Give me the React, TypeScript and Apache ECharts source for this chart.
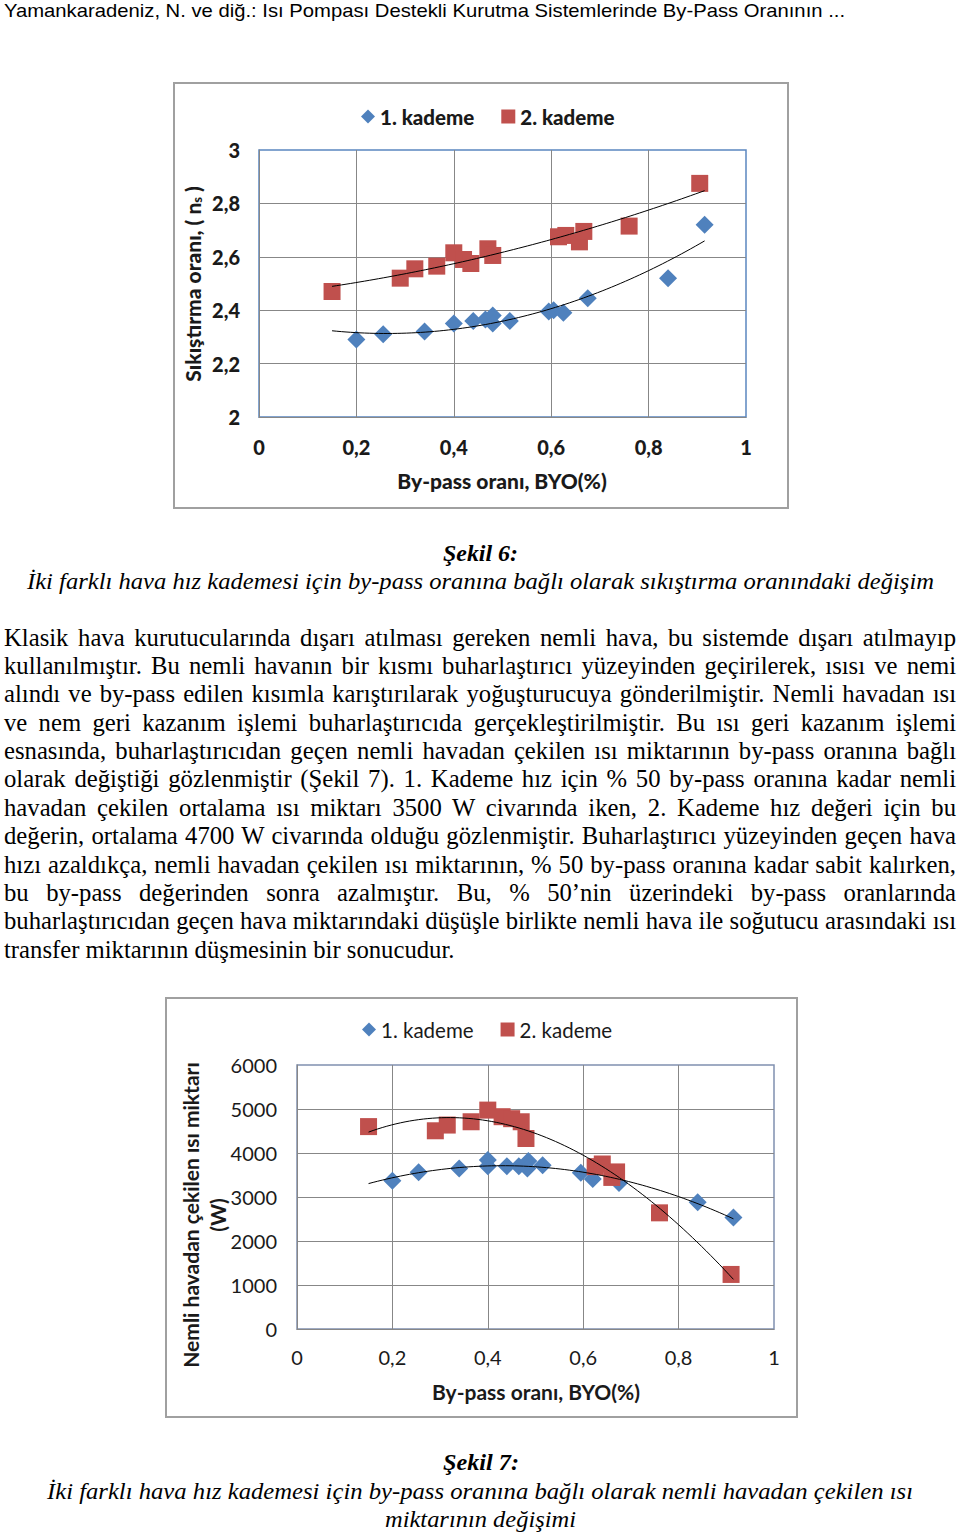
import React, { useEffect, useLayoutEffect, useRef } from "react";
import * as echarts from "echarts";

// ---------- DATA ----------
const X_TICKS = [0, 0.2, 0.4, 0.6, 0.8, 1];

// Şekil 6: compression ratio vs by-pass ratio
const f6K1X = [0.2, 0.255, 0.34, 0.4, 0.44, 0.465, 0.48, 0.48, 0.515, 0.595, 0.605, 0.625, 0.675, 0.84, 0.915];
const f6K1Y = [2.29, 2.31, 2.32, 2.35, 2.36, 2.365, 2.38, 2.35, 2.36, 2.395, 2.4, 2.39, 2.445, 2.52, 2.72];
const f6K2X = [0.15, 0.29, 0.32, 0.365, 0.4, 0.42, 0.435, 0.47, 0.48, 0.615, 0.63, 0.658, 0.667, 0.76, 0.905];
const f6K2Y = [2.47, 2.52, 2.555, 2.565, 2.615, 2.59, 2.575, 2.63, 2.605, 2.675, 2.68, 2.656, 2.695, 2.715, 2.875];

// Şekil 7: heat extracted from humid air (W) vs by-pass ratio
const f7K1X = [0.2, 0.255, 0.34, 0.4, 0.4, 0.44, 0.465, 0.485, 0.483, 0.515, 0.595, 0.62, 0.675, 0.84, 0.915];
const f7K1Y = [3370, 3565, 3650, 3840, 3700, 3700, 3700, 3820, 3650, 3720, 3550, 3410, 3320, 2880, 2535];
const f7K2X = [0.15, 0.29, 0.315, 0.365, 0.4, 0.43, 0.45, 0.47, 0.48, 0.625, 0.64, 0.66, 0.67, 0.76, 0.91];
const f7K2Y = [4600, 4505, 4635, 4710, 4975, 4825, 4780, 4710, 4330, 3690, 3750, 3445, 3570, 2640, 1240];

const SERIES1 = "1. kademe";
const SERIES2 = "2. kademe";

const HEADER = "Yamankaradeniz, N. ve diğ.: Isı Pompası Destekli Kurutma Sistemlerinde By-Pass Oranının ...";
const FIG6_TITLE = "Şekil 6:";
const FIG6_CAPTION = "İki farklı hava hız kademesi için by-pass oranına bağlı olarak sıkıştırma oranındaki değişim";
const FIG7_TITLE = "Şekil 7:";
const FIG7_CAPTION1 = "İki farklı hava hız kademesi için by-pass oranına bağlı olarak nemli havadan çekilen ısı";
const FIG7_CAPTION2 = "miktarının değişimi";
const PARAGRAPH = [
  "Klasik hava kurutucularında dışarı atılması gereken nemli hava, bu sistemde dışarı atılmayıp",
  "kullanılmıştır. Bu nemli havanın bir kısmı buharlaştırıcı yüzeyinden geçirilerek, ısısı ve nemi",
  "alındı ve by-pass edilen kısımla karıştırılarak yoğuşturucuya gönderilmiştir. Nemli havadan ısı",
  "ve nem geri kazanım işlemi buharlaştırıcıda gerçekleştirilmiştir. Bu ısı geri kazanım işlemi",
  "esnasında, buharlaştırıcıdan geçen nemli havadan çekilen ısı miktarının by-pass oranına bağlı",
  "olarak değiştiği gözlenmiştir (Şekil 7). 1. Kademe hız için % 50 by-pass oranına kadar nemli",
  "havadan çekilen ortalama ısı miktarı 3500 W civarında iken, 2. Kademe hız değeri için bu",
  "değerin, ortalama 4700 W civarında olduğu gözlenmiştir. Buharlaştırıcı yüzeyinden geçen hava",
  "hızı azaldıkça, nemli havadan çekilen ısı miktarının, % 50 by-pass oranına kadar sabit kalırken,",
  "bu by-pass değerinden sonra azalmıştır. Bu, % 50’nin üzerindeki by-pass oranlarında",
  "buharlaştırıcıdan geçen hava miktarındaki düşüşle birlikte nemli hava ile soğutucu arasındaki ısı",
  "transfer miktarının düşmesinin bir sonucudur.",
];

// ---------- helpers ----------
const zip = (xs: number[], ys: number[]) => xs.map((x, i) => [x, ys[i]]);

function polyfit(xs: number[], ys: number[], deg: number): number[] {
  const n = deg + 1;
  const A: number[][] = [];
  for (let i = 0; i < n; i++) {
    const row: number[] = [];
    for (let j = 0; j < n; j++) row.push(xs.reduce((s, x) => s + Math.pow(x, i + j), 0));
    row.push(xs.reduce((s, x, k) => s + ys[k] * Math.pow(x, i), 0));
    A.push(row);
  }
  for (let c = 0; c < n; c++) {
    let p = c;
    for (let r = c + 1; r < n; r++) if (Math.abs(A[r][c]) > Math.abs(A[p][c])) p = r;
    [A[c], A[p]] = [A[p], A[c]];
    for (let r = 0; r < n; r++) {
      if (r === c) continue;
      const f = A[r][c] / A[c][c];
      for (let k = c; k <= n; k++) A[r][k] -= f * A[c][k];
    }
  }
  return A.map((row, i) => row[n] / row[i]);
}

function trend(xs: number[], ys: number[], x0: number, x1: number, deg = 2) {
  const c = polyfit(xs, ys, deg);
  const out: number[][] = [];
  const N = 80;
  for (let i = 0; i <= N; i++) {
    const x = x0 + ((x1 - x0) * i) / N;
    out.push([x, c.reduce((s, ci, k) => s + ci * Math.pow(x, k), 0)]);
  }
  return out;
}

const fmtDec = (v: number) => String(Math.round(v * 10) / 10).replace(".", ",");

// ---------- text line component ----------
type LineProps = {
  text: string;
  left: number;
  cy: number;
  width?: number;
  size: number;
  family: string;
  weight?: string;
  italic?: boolean;
  mode: "none" | "justify" | "fit";
};

function TextLine({ text, left, cy, width, size, family, weight, italic, mode }: LineProps) {
  const ref = useRef<HTMLSpanElement>(null);
  useLayoutEffect(() => {
    const apply = () => {
      const el = ref.current;
      if (!el) return;
      el.style.wordSpacing = "0px";
      el.style.transform = "none";
      const w = el.getBoundingClientRect().width;
      if (!width || !w) return;
      if (mode === "justify") {
        const n = (text.match(/ /g) || []).length;
        if (n) el.style.wordSpacing = (width - w) / n + "px";
      } else if (mode === "fit") {
        el.style.transform = `scaleX(${width / w})`;
      }
    };
    apply();
    (document as any).fonts?.ready?.then(apply);
  }, [text, width, mode]);
  return (
    <span
      ref={ref}
      style={{
        position: "absolute",
        left,
        top: cy - size / 2,
        whiteSpace: "pre",
        fontSize: size,
        lineHeight: size + "px",
        fontFamily: family,
        fontWeight: (weight as any) || "normal",
        fontStyle: italic ? "italic" : "normal",
        transformOrigin: "0 0",
        color: "#000",
      }}
    >
      {text}
    </span>
  );
}

// ---------- chart ----------
function buildOption() {
  const dark = "#1a1a1a";
  const gridGray = "#878787";
  const blue = "#4f81bd";
  const red = "#c0504d";
  const all6 = [...f6K1X, ...f6K2X];
  const all7 = [...f7K1X, ...f7K2X];
  const t6a = trend(f6K1X, f6K1Y, Math.min(...all6), Math.max(...all6), 2);
  const t6b = trend(f6K2X, f6K2Y, Math.min(...all6), Math.max(...all6), 2);
  const t7a = trend(f7K1X, f7K1Y, Math.min(...all7), Math.max(...all7), 2);
  const t7b = trend(f7K2X, f7K2Y, Math.min(...all7), Math.max(...all7), 3);

  const heavyFont = { fontFamily: "Lato", fontWeight: 900 as any, fontSize: 20, color: dark };
  const regFont = { fontFamily: "Lato", fontWeight: "normal" as const, fontSize: 20, color: dark };
  const titleText = (x: number, y: number, text: string, weight: number, rot = 0, extra: any = {}) => ({
    type: "text",
    x,
    y,
    rotation: rot,
    style: {
      text,
      font: `${weight} 21px Lato`,
      fontFamily: "Lato",
      fontWeight: weight,
      fontSize: 21,
      fill: dark,
      align: "center",
      verticalAlign: "middle",
      textAlign: "center",
      textVerticalAlign: "middle",
      ...extra,
    },
  });

  const xAxisBase = (gridIndex: number, label: any, margin: number) => ({
    type: "value",
    gridIndex,
    min: 0,
    max: 1,
    interval: 0.2,
    axisLine: { show: true, lineStyle: { color: gridGray, width: 1 } },
    axisTick: { show: false },
    axisLabel: { ...label, margin, formatter: (v: number) => fmtDec(v) },
    splitLine: { show: true, showMinLine: false, showMaxLine: false, lineStyle: { color: gridGray, width: 1 } },
  });

  return {
    animation: false,
    grid: [
      { left: 259, top: 150, width: 487, height: 267, show: true, borderColor: "#5b87c0", borderWidth: 1.5, backgroundColor: "transparent", containLabel: false, outerBoundsMode: "none" },
      { left: 297, top: 1065, width: 477, height: 264, show: true, borderColor: "#8090b0", borderWidth: 1.5, backgroundColor: "transparent", containLabel: false, outerBoundsMode: "none" },
    ],
    legend: [
      {
        data: [{ name: SERIES1, icon: "diamond" }, { name: SERIES2, icon: "rect" }],
        left: 356,
        top: 101,
        itemWidth: 14,
        itemHeight: 14,
        itemGap: 27,
        selectedMode: false,
        textStyle: { ...heavyFont, fontSize: 20.5 },
      },
      {
        data: [{ name: SERIES1, icon: "diamond" }, { name: SERIES2, icon: "rect" }],
        left: 357,
        top: 1014,
        itemWidth: 14,
        itemHeight: 14,
        itemGap: 27,
        selectedMode: false,
        textStyle: { ...regFont, fontSize: 20.5 },
      },
    ],
    xAxis: [xAxisBase(0, heavyFont, 20), xAxisBase(1, regFont, 18)],
    yAxis: [
      {
        type: "value",
        gridIndex: 0,
        min: 2,
        max: 3,
        interval: 0.2,
        axisLine: { show: true, lineStyle: { color: gridGray, width: 1 } },
        axisTick: { show: false },
        axisLabel: { ...heavyFont, margin: 19, formatter: (v: number) => fmtDec(v) },
        splitLine: { show: true, showMinLine: false, showMaxLine: false, lineStyle: { color: gridGray, width: 1 } },
      },
      {
        type: "value",
        gridIndex: 1,
        min: 0,
        max: 6000,
        interval: 1000,
        axisLine: { show: true, lineStyle: { color: gridGray, width: 1 } },
        axisTick: { show: false },
        axisLabel: { ...regFont, margin: 20, formatter: (v: number) => String(v) },
        splitLine: { show: true, showMinLine: false, showMaxLine: false, lineStyle: { color: gridGray, width: 1 } },
      },
    ],
    series: [
      { name: SERIES1, type: "scatter", xAxisIndex: 0, yAxisIndex: 0, symbol: "diamond", symbolSize: 18, itemStyle: { color: blue, opacity: 1 }, data: zip(f6K1X, f6K1Y), z: 2 },
      { name: SERIES2, type: "scatter", xAxisIndex: 0, yAxisIndex: 0, symbol: "rect", symbolSize: 17, itemStyle: { color: red, opacity: 1 }, data: zip(f6K2X, f6K2Y), z: 2 },
      { name: "trend6a", type: "line", xAxisIndex: 0, yAxisIndex: 0, showSymbol: false, symbol: "none", silent: true, lineStyle: { color: "#000", width: 1 }, data: t6a, z: 3 },
      { name: "trend6b", type: "line", xAxisIndex: 0, yAxisIndex: 0, showSymbol: false, symbol: "none", silent: true, lineStyle: { color: "#000", width: 1 }, data: t6b, z: 3 },
      { name: SERIES1, type: "scatter", xAxisIndex: 1, yAxisIndex: 1, symbol: "diamond", symbolSize: 18, itemStyle: { color: blue, opacity: 1 }, data: zip(f7K1X, f7K1Y), z: 2 },
      { name: SERIES2, type: "scatter", xAxisIndex: 1, yAxisIndex: 1, symbol: "rect", symbolSize: 17, itemStyle: { color: red, opacity: 1 }, data: zip(f7K2X, f7K2Y), z: 2 },
      { name: "trend7a", type: "line", xAxisIndex: 1, yAxisIndex: 1, showSymbol: false, symbol: "none", silent: true, lineStyle: { color: "#000", width: 1 }, data: t7a, z: 3 },
      { name: "trend7b", type: "line", xAxisIndex: 1, yAxisIndex: 1, showSymbol: false, symbol: "none", silent: true, lineStyle: { color: "#000", width: 1 }, data: t7b, z: 3 },
    ],
    graphic: [
      { type: "rect", silent: true, z: -10, shape: { x: 174, y: 83, width: 614, height: 425 }, style: { fill: "#fff", stroke: "#a0a0a0", lineWidth: 2 } },
      { type: "rect", silent: true, z: -10, shape: { x: 166, y: 998, width: 631, height: 419 }, style: { fill: "#fff", stroke: "#a0a0a0", lineWidth: 2 } },
      titleText(192, 284, "Sıkıştırma oranı, ( n{s|s} )", 900, Math.PI / 2, {
        rich: { s: { font: "900 13px Lato", fontFamily: "Lato", fontWeight: 900, fontSize: 13, fill: dark, padding: [10, 0, 0, 0] } },
      }),
      titleText(502, 480, "By-pass oranı, BYO(%)", 900),
      titleText(190, 1215, "Nemli havadan çekilen ısı miktarı", 700, Math.PI / 2),
      titleText(217, 1215, "(W)", 700, Math.PI / 2),
      titleText(536, 1391, "By-pass oranı, BYO(%)", 700),
    ],
  };
}

export default function App() {
  const ref = useRef<HTMLDivElement>(null);
  useEffect(() => {
    if (!ref.current) return;
    const chart = echarts.init(ref.current, undefined, { renderer: "svg" });
    chart.setOption(buildOption() as any);
    return () => chart.dispose();
  }, []);

  const serif = "'Liberation Serif', 'Times New Roman', serif";
  const sans = "'Liberation Sans', Arial, sans-serif";
  const paraTop = 638;
  const paraStep = 28.36;

  return (
    <div style={{ position: "absolute", left: 0, top: 0, width: 960, height: 1533, background: "#fff", overflow: "hidden" }}>
      <div ref={ref} style={{ position: "absolute", left: 0, top: 0, width: 960, height: 1533 }} />
      <div style={{ position: "absolute", left: 0, top: 0, width: 960, height: 1533, pointerEvents: "none" }}>
        <TextLine text={HEADER} left={4} cy={10} width={841} size={19} family={sans} mode="fit" />
        <TextLine text={FIG6_TITLE} left={443} cy={553} width={75} size={24} family={serif} weight="bold" italic mode="fit" />
        <TextLine text={FIG6_CAPTION} left={27} cy={581} width={907} size={24} family={serif} italic mode="fit" />
        {PARAGRAPH.map((line, i) => (
          <TextLine
            key={i}
            text={line}
            left={4}
            cy={paraTop + i * paraStep}
            width={952}
            size={24.7}
            family={serif}
            mode={i === PARAGRAPH.length - 1 ? "none" : "justify"}
          />
        ))}
        <TextLine text={FIG7_TITLE} left={443} cy={1462} width={76} size={24} family={serif} weight="bold" italic mode="fit" />
        <TextLine text={FIG7_CAPTION1} left={47} cy={1491} width={866} size={24} family={serif} italic mode="fit" />
        <TextLine text={FIG7_CAPTION2} left={385} cy={1519} width={191} size={24} family={serif} italic mode="fit" />
      </div>
    </div>
  );
}
